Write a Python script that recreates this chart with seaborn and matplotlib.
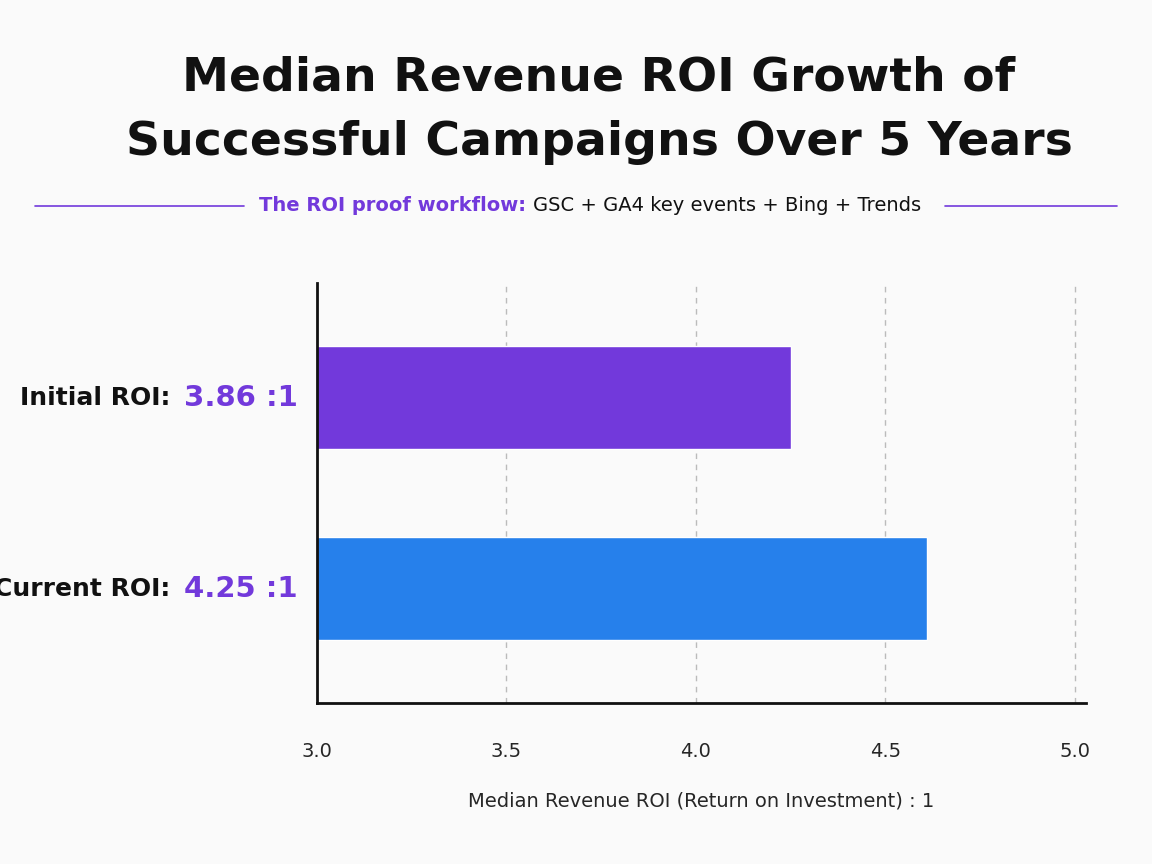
import matplotlib
matplotlib.use("Agg")
import matplotlib.pyplot as plt
import seaborn as sns
import pandas as pd

categories = ["Initial ROI", "Current ROI"]
roi_values = [4.25, 4.61]
value_labels = ["3.86 :1", "4.25 :1"]
bar_colors = ["#7239DB", "#2680EB"]
ticks = [3.0, 3.5, 4.0, 4.5, 5.0]

sns.set_theme(style="white")
plt.rcParams['font.family'] = ['DejaVu Sans']

fig = plt.figure(figsize=(11.52, 8.64), dpi=100)
fig.patch.set_facecolor("#FAFAFA")
ax = fig.add_axes([0.275, 0.186, 0.668, 0.486])
ax.set_facecolor("#FAFAFA")

df = pd.DataFrame({"cat": categories, "roi": roi_values})
sns.barplot(data=df, x="roi", y="cat", hue="cat", palette=bar_colors,
            legend=False, ax=ax, width=0.54, saturation=1)

ax.set_xlim(3.0, 5.03)
ax.set_ylim(1.6, -0.6)
ax.set_xticks(ticks)
ax.set_xticklabels([f"{t:.1f}" for t in ticks], fontsize=14)
ax.tick_params(axis="x", length=0, pad=28)
for t in ticks[1:]:
    ax.axvline(t, color="#BBBBBB", ls=(0, (4, 4)), lw=1, zorder=0)
for s in ["top", "right"]:
    ax.spines[s].set_visible(False)
for s in ["left", "bottom"]:
    ax.spines[s].set_color("#111111")
    ax.spines[s].set_linewidth(2)
ax.set_ylabel("")
ax.set_yticks([])
ax.set_xlabel("Median Revenue ROI (Return on Investment) : 1", fontsize=14, labelpad=22)

for i, (c, lab) in enumerate(zip(categories, value_labels)):
    ax.text(-0.025, i, lab, transform=ax.get_yaxis_transform(), ha="right", va="center",
            fontsize=21, fontweight="bold", color="#7239DB")
    ax.text(-0.19, i, c + ":", transform=ax.get_yaxis_transform(), ha="right", va="center",
            fontsize=18, fontweight="bold", color="#111111")

fig.text(0.52, 0.91, "Median Revenue ROI Growth of", ha="center", va="center",
         fontsize=34, fontweight="bold", color="#111111")
fig.text(0.52, 0.835, "Successful Campaigns Over 5 Years", ha="center", va="center",
         fontsize=34, fontweight="bold", color="#111111")

t1 = fig.text(0.225, 0.762, "The ROI proof workflow: ", ha="left", va="center",
              fontsize=14, color="#7239DB", fontweight="semibold")
fig.canvas.draw()
bb = t1.get_window_extent().transformed(fig.transFigure.inverted())
t2 = fig.text(bb.x1, 0.762, "GSC + GA4 key events + Bing + Trends", ha="left",
              va="center", fontsize=14, color="#111111")
fig.add_artist(plt.Line2D([0.03, 0.212], [0.762, 0.762], color="#7239DB", lw=1.2))
fig.add_artist(plt.Line2D([0.82, 0.97], [0.762, 0.762], color="#7239DB", lw=1.2))

fig.savefig("out.png", dpi=100, facecolor=fig.get_facecolor())
